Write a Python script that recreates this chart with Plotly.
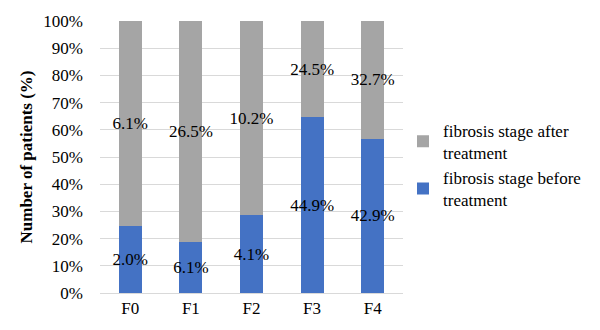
import plotly.graph_objects as go

categories = ["F0", "F1", "F2", "F3", "F4"]
before = [2.0, 6.1, 4.1, 44.9, 42.9]
after = [6.1, 26.5, 10.2, 24.5, 32.7]
before_name = "fibrosis stage before<br>treatment"
after_name = "fibrosis stage after<br>treatment"

FONT = "Liberation Serif"

fig = go.Figure()
fig.add_trace(go.Bar(
    x=categories, y=before, name=before_name,
    marker=dict(color="#4472C4", line=dict(width=0)),
    text=[f"{v:.1f}%" for v in before], textposition="inside",
    insidetextanchor="middle", textangle=0, constraintext="none",
    insidetextfont=dict(family=FONT, size=17, color="#000000"),
    cliponaxis=False, hoverinfo="skip",
))
fig.add_trace(go.Bar(
    x=categories, y=after, name=after_name,
    marker=dict(color="#A5A5A5", line=dict(width=0)),
    text=[f"{v:.1f}%" for v in after], textposition="inside",
    insidetextanchor="middle", textangle=0, constraintext="none",
    insidetextfont=dict(family=FONT, size=17, color="#000000"),
    cliponaxis=False, hoverinfo="skip",
))

fig.update_layout(
    width=600, height=330,
    barmode="stack", barnorm="percent", bargap=0.62,
    paper_bgcolor="white", plot_bgcolor="white",
    margin=dict(l=100, r=197, t=16, b=37),
    font=dict(family=FONT, size=17, color="#000000"),
    legend=dict(
        x=1.0, xanchor="left", y=0.47, yanchor="middle",
        traceorder="reversed", font=dict(family=FONT, size=17, color="#000000"),
        itemclick=False, tracegroupgap=0, itemwidth=30,
    ),
    showlegend=True,
)
fig.update_yaxes(
    range=[0, 100], dtick=10, ticksuffix="%", showgrid=True,
    gridcolor="#D9D9D9", gridwidth=1, zeroline=False, showline=False,
    ticks="", ticklabelstandoff=16,
    tickfont=dict(family=FONT, size=17, color="#000000"),
    title=dict(text="<b>Number of patients (%)</b>", font=dict(family=FONT, size=17, color="#000000"), standoff=6),
)
fig.update_xaxes(
    showline=True, linecolor="#D9D9D9", linewidth=1, ticks="",
    tickfont=dict(family=FONT, size=17, color="#000000"),
)

fig.write_html("out.html")
